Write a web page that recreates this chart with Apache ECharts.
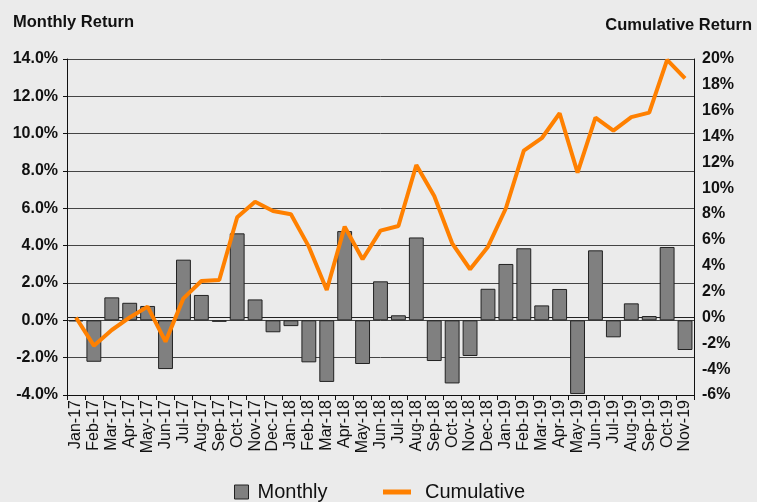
<!DOCTYPE html>
<html>
<head>
<meta charset="utf-8">
<script src="https://cdn.jsdelivr.net/npm/echarts@6/dist/echarts.min.js"></script>
<style>
html,body{margin:0;padding:0;background:#ebebeb;}
#c{width:757px;height:502px;}
</style>
</head>
<body>
<div id="c"></div>
<script>
const categories = ["Jan-17","Feb-17","Mar-17","Apr-17","May-17","Jun-17","Jul-17","Aug-17","Sep-17","Oct-17","Nov-17","Dec-17",
"Jan-18","Feb-18","Mar-18","Apr-18","May-18","Jun-18","Jul-18","Aug-18","Sep-18","Oct-18","Nov-18","Dec-18",
"Jan-19","Feb-19","Mar-19","Apr-19","May-19","Jun-19","Jul-19","Aug-19","Sep-19","Oct-19","Nov-19"];
const monthly = [-0.05,-2.22,1.23,0.94,0.77,-2.61,3.25,1.36,-0.08,4.66,1.12,-0.64,
-0.31,-2.25,-3.30,4.78,-2.34,2.09,0.27,4.44,-2.18,-3.38,-1.91,1.69,
3.02,3.86,0.80,1.68,-3.95,3.75,-0.91,0.91,0.23,3.93,-1.59];
const cumulative = [0.0,-2.18,-0.97,0.0,0.84,-1.87,1.48,2.82,2.90,7.75,8.96,8.24,
7.98,5.48,2.13,7.03,4.50,6.72,7.08,11.8,9.40,5.74,3.73,5.48,
8.45,12.91,13.87,15.80,11.21,15.47,14.46,15.50,15.85,19.93,18.50];
const leftTicks = {min:-4, max:14, interval:2};
const rightTicks = {min:-6, max:20, interval:2};

const FONT = '"Liberation Sans",Arial,sans-serif';
const chart = echarts.init(document.getElementById('c'), null, {renderer:'canvas'});
chart.setOption({
  backgroundColor:'#ebebeb',
  animation:false,
  textStyle:{fontFamily:FONT},
  title:[
    {text:'Monthly Return', left:8, top:9, textStyle:{fontFamily:FONT, fontSize:16.5, fontWeight:'bold', color:'#111'}},
    {text:'Cumulative Return', right:0, top:12, textStyle:{fontFamily:FONT, fontSize:16.5, fontWeight:'bold', color:'#111'}}
  ],
  legend:[
    {left:229, bottom:-5, itemWidth:14, itemHeight:14, itemGap:10,
     textStyle:{fontFamily:FONT, fontSize:20, color:'#111', padding:[0,0,0,4]},
     data:[{name:'Monthly', icon:'rect', itemStyle:{color:'#808080', borderColor:'#222', borderWidth:1}}]},
    {left:378, bottom:-5, itemWidth:28, itemHeight:14,
     textStyle:{fontFamily:FONT, fontSize:20, color:'#111', padding:[0,0,0,9]},
     data:[{name:'Cumulative', icon:'path://M0,12h28v5h-28z', itemStyle:{color:'#ff8000'}}]}
  ],
  grid:{left:67, right:63, top:59, bottom:107, containLabel:false},
  xAxis:{
    type:'category', data:categories, boundaryGap:true,
    axisLine:{onZero:false, lineStyle:{color:'#111', width:1}},
    axisTick:{show:true, length:5, lineStyle:{color:'#111'}},
    axisLabel:{rotate:90, interval:0, fontFamily:FONT, fontSize:16, color:'#111', margin:5}
  },
  yAxis:[
    {type:'value', min:leftTicks.min, max:leftTicks.max, interval:leftTicks.interval, position:'left',
     axisLine:{show:true, lineStyle:{color:'#111'}},
     axisTick:{show:true, length:4, lineStyle:{color:'#111'}},
     axisLabel:{formatter:v=>v.toFixed(1)+'%', fontFamily:FONT, fontSize:16, fontWeight:'bold', color:'#111', margin:9},
     splitLine:{show:true, lineStyle:{color:'#444', width:1}}},
    {type:'value', min:rightTicks.min, max:rightTicks.max, interval:rightTicks.interval, position:'right',
     axisLine:{show:true, lineStyle:{color:'#111'}},
     axisTick:{show:false},
     axisLabel:{formatter:v=>v+'%', fontFamily:FONT, fontSize:16, fontWeight:'bold', color:'#111', margin:8},
     splitLine:{show:false}}
  ],
  series:[
    {name:'Monthly', type:'bar', yAxisIndex:0, data:monthly, barCategoryGap:'17%',
     itemStyle:{color:'#808080', borderColor:'#222', borderWidth:1}},
    {name:'Cumulative', type:'line', yAxisIndex:1, data:cumulative, symbol:'none',
     lineStyle:{color:'#ff8000', width:4}, itemStyle:{color:'#ff8000'}, z:5,
     markLine:{silent:true, symbol:'none', label:{show:false}, lineStyle:{color:'#222', width:1, type:'solid'}, data:[{yAxis:0}], z:1}}
  ]
});
</script>
</body>
</html>
